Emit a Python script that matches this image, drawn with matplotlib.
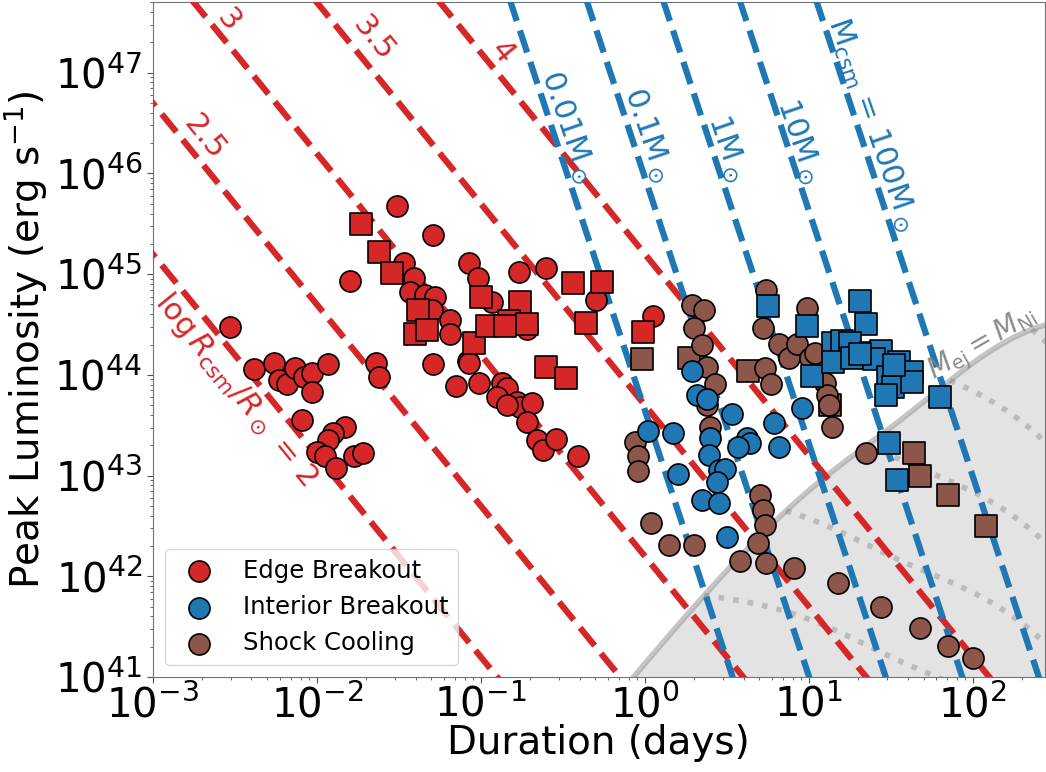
import matplotlib
matplotlib.use('Agg')
import matplotlib.pyplot as plt
import numpy as np

# points, stored as log10(duration / days) and log10(L / erg s^-1)
edge_circ_logt = [-1.51, -1.29, -1.80, -1.47, -1.41, -1.43, -1.34, -1.28, -1.30, -1.19,
                  -1.19, -1.07, -1.02, -2.53, -2.38, -2.26, -2.23, -2.18, -2.13, -2.08,
                  -2.03, -2.03, -1.93, -1.64, -1.62, -2.09, -1.83, -1.90, -1.93, -2.00,
                  -1.95, -1.88, -1.77, -1.72, -1.29, -1.15, -1.08, -1.07, -1.01, -0.93,
                  -0.77, -0.60, -0.72, -0.30, 0.05, -0.87, -0.84, -0.90, -0.78, -0.76,
                  -0.84, -0.69, -0.72, -0.66, -0.62, -0.54, -0.41]
edge_circ_logL = [45.68, 45.39, 44.93, 45.11, 44.96, 44.82, 44.79, 44.77, 44.64, 44.54,
                  44.41, 45.11, 44.96, 44.48, 44.06, 44.12, 43.95, 43.91, 44.07, 43.98,
                  44.02, 43.83, 44.11, 44.12, 43.98, 43.55, 43.48, 43.42, 43.35, 43.23,
                  43.19, 43.08, 43.19, 43.22, 44.11, 43.89, 44.14, 44.12, 43.92, 44.72,
                  45.02, 45.06, 44.46, 44.74, 44.58, 43.92, 43.87, 43.78, 43.73, 43.68,
                  43.70, 43.72, 43.53, 43.35, 43.25, 43.36, 43.19]

edge_sq_logt = [-1.73, -1.62, -1.54, -1.38, -1.40, -1.33, -1.04, -1.00, -0.76, -0.96,
                -0.83, -0.85, -0.72, -0.44, -0.26, -0.36, -0.60, -0.48, -0.01]
edge_sq_logL = [45.50, 45.22, 45.01, 44.64, 44.41, 44.45, 44.32, 44.77, 44.72, 44.49,
                44.53, 44.49, 44.51, 44.91, 44.92, 44.52, 44.08, 43.97, 44.43]

int_circ_logt = [0.02, 0.17, 0.20, 0.29, 0.32, 0.38, 0.53, 0.79, 0.96, 0.40,
                 0.39, 0.62, 0.64, 0.57, 0.82, 0.45, 0.49, 0.44, 0.35, 0.45, 0.50]
int_circ_logL = [43.44, 43.42, 43.02, 44.04, 43.80, 43.76, 43.61, 43.52, 43.67, 43.37,
                 43.20, 43.37, 43.32, 43.28, 43.28, 43.06, 43.07, 42.94, 42.76, 42.73, 42.39]

int_sq_logt = [0.75, 0.99, 1.02, 1.31, 1.35, 1.15, 1.20, 1.25, 1.15, 1.26,
               1.38, 1.44, 1.40, 1.55, 1.63, 1.48, 1.51, 1.47, 1.63, 1.80,
               1.49, 1.54, 1.31, 1.52]
int_sq_logL = [44.68, 44.49, 43.99, 44.73, 44.51, 44.32, 44.34, 44.32, 44.13, 44.17,
               44.22, 44.24, 44.16, 44.13, 44.03, 43.98, 43.88, 43.80, 43.93, 43.78,
               43.32, 42.96, 44.21, 44.10]

sc_circ_logt = [-0.06, -0.04, -0.04, 0.29, 0.36, 0.30, 0.35, 0.38, 0.43, 0.38,
                0.40, 0.74, 0.72, 0.73, 0.77, 0.82, 0.88, 0.93, 0.99, 1.01,
                1.04, 1.10, 1.11, 1.12, 1.14, 1.35, 0.70, 0.72, 0.73, 0.69,
                0.04, 0.15, 0.30, 0.58, 0.74, 0.91, 1.18, 1.44, 1.68, 1.85, 2.00]
sc_circ_logL = [43.33, 43.19, 43.05, 44.69, 44.64, 44.47, 44.30, 44.08, 43.91, 43.70,
                43.48, 44.84, 44.47, 44.07, 43.91, 44.31, 44.17, 44.31, 44.66, 44.17,
                44.22, 43.92, 43.80, 43.70, 43.48, 43.22, 42.81, 42.66, 42.51, 42.33,
                42.53, 42.31, 42.31, 42.15, 42.13, 42.08, 41.93, 41.70, 41.49, 41.31, 41.19]

sc_sq_logt = [-0.02, 0.27, 0.63, 1.13, 1.64, 1.68, 1.85, 2.08]
sc_sq_logL = [44.16, 44.17, 44.04, 43.70, 43.22, 43.00, 42.81, 42.50]

# model line families
log_rcsm = [2, 2.5, 3, 3.5, 4]
m_csm = [0.01, 0.1, 1, 10, 100]
m_ni = [0.001, 0.01, 0.1, 1, 10, 100]

red = '#d62728'
blue = '#1f77b4'
brown = '#8c564b'


def ni_rate(t, beta=4/3):
    # peak luminosity per solar mass of nickel (Khatami & Kasen style relation)
    msun = 1.989e33
    eps_ni, eps_co = 3.9e10 * msun, 6.8e9 * msun
    t_ni, t_co = 8.8, 111.3
    x_ni = beta * t / t_ni
    x_co = beta * t / t_co
    term_ni = (eps_ni - eps_co) * t_ni**2 * (1 - (1 + x_ni) * np.exp(-x_ni))
    term_co = eps_co * t_co**2 * (1 - (1 + x_co) * np.exp(-x_co))
    return 2 / (beta * t)**2 * (term_ni + term_co)


k_ej = 1.9e-3  # Msun per day^2, M_ej vs duration

fig = plt.figure(figsize=(10.46, 7.72), dpi=100)
ax = fig.add_axes([0.146, 0.123, 0.853, 0.874])
ax.set_xscale('log')
ax.set_yscale('log')

t = np.logspace(-3.2, 2.6, 600)

# nickel-powered region
t_ni = np.logspace(-0.3, 2.6, 400)
L_ni = k_ej * t_ni**2 * ni_rate(t_ni)
ax.fill_between(t_ni, 1e40, L_ni, color='grey', alpha=0.22, lw=0, zorder=1)
ax.plot(t_ni, L_ni, color='grey', alpha=0.45, lw=4, zorder=2)
for m in m_ni:
    t0 = np.sqrt(m / k_ej)
    tt = np.logspace(np.log10(t0), 2.6, 200)
    ax.plot(tt, m * ni_rate(tt), color='grey', alpha=0.4, lw=4, ls=':', zorder=2)

for r in log_rcsm:
    ax.plot(t, 10**(33.2 + 3 * r - 2 * np.log10(t)), color=red, lw=4.5, ls='--', zorder=3)
for m in m_csm:
    ax.plot(t, 10**(48.27 + 2.31 * np.log10(m) - 4.95 * np.log10(t)), color=blue, lw=4.5,
            ls='--', zorder=3)

sc_kw = dict(s=230, edgecolors='black', linewidths=1.2, zorder=4)
ax.scatter(10**np.array(sc_sq_logt), 10**np.array(sc_sq_logL), marker='s', color=brown, **sc_kw)
h_sc = ax.scatter(10**np.array(sc_circ_logt), 10**np.array(sc_circ_logL), marker='o', color=brown,
                  label='Shock Cooling', **sc_kw)
h_edge = ax.scatter(10**np.array(edge_circ_logt), 10**np.array(edge_circ_logL), marker='o',
                    color=red, label='Edge Breakout', **sc_kw)
ax.scatter(10**np.array(edge_sq_logt), 10**np.array(edge_sq_logL), marker='s', color=red, **sc_kw)
h_int = ax.scatter(10**np.array(int_circ_logt), 10**np.array(int_circ_logL), marker='o',
                   color=blue, label='Interior Breakout', **sc_kw)
ax.scatter(10**np.array(int_sq_logt), 10**np.array(int_sq_logL), marker='s', color=blue, **sc_kw)

txt = dict(ha='center', va='center', rotation_mode='anchor', fontsize=22)
ax.text(2.9e-3, 3.3e47, '3', color=red, rotation=-51, **txt)
ax.text(2.23e-2, 2.2e47, '3.5', color=red, rotation=-51, **txt)
ax.text(0.135, 1.6e47, '4', color=red, rotation=-51, **txt)
ax.text(2.06e-3, 2.3e46, '2.5', color=red, rotation=-51, **txt)
ax.text(3.2e-3, 7.1e43, r'$\log R_{\rm csm}/R_\odot$ = 2', color=red, rotation=-51, **txt)

ax.text(0.34, 2.9e46, r'0.01M$_\odot$', color=blue, rotation=-71, **txt)
ax.text(1.04, 2.4e46, r'0.1M$_\odot$', color=blue, rotation=-71, **txt)
ax.text(3.15, 1.8e46, r'1M$_\odot$', color=blue, rotation=-71, **txt)
ax.text(8.7, 2.1e46, r'10M$_\odot$', color=blue, rotation=-71, **txt)
ax.text(24.2, 3.1e46, r'M$_{\rm csm}$ = 100M$_\odot$', color=blue, rotation=-71, **txt)

ax.text(114, 2.0e44, r'$M_{\rm ej} = M_{\rm Ni}$', color='grey', alpha=0.9, rotation=30,
        ha='center', va='center', rotation_mode='anchor', fontsize=20)

ax.set_xlim(1e-3, 2.75e2)
ax.set_ylim(1e41, 5e47)
ax.set_xlabel('Duration (days)', fontsize=28, labelpad=-2)
ax.set_ylabel(r'Peak Luminosity (erg s$^{-1}$)', fontsize=28, labelpad=4)
ax.tick_params(which='major', labelsize=29, length=4, color='0.3')
ax.tick_params(axis='x', which='major', pad=2)
ax.tick_params(which='minor', length=2.5, color='0.3')
for sp in ax.spines.values():
    sp.set_color('0.45')

ax.legend(handles=[h_edge, h_int, h_sc], loc='lower left', fontsize=17.5)

fig.savefig('out.png', dpi=100)
